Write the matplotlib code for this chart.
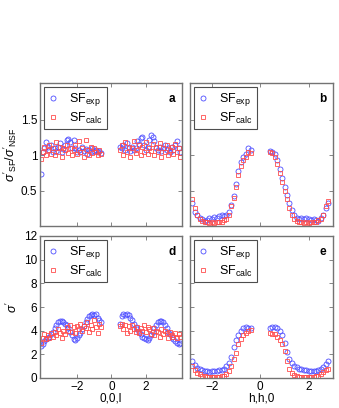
import numpy as np
import matplotlib
matplotlib.use("Agg")
import matplotlib.pyplot as plt

plt.rcParams['font.family'] = ['Liberation Sans', 'DejaVu Sans']
plt.rcParams['mathtext.fontset'] = 'custom'
plt.rcParams['mathtext.rm'] = 'Liberation Sans'
plt.rcParams['mathtext.it'] = 'Liberation Sans:italic'

# scan positions (0,0,l) and (h,h,0)
l_left = np.round(np.arange(-4.1, -0.55, 0.1), 1)
l_right = np.round(np.arange(0.5, 4.05, 0.1), 1)
h_left = np.round(np.arange(-2.8, -0.35, 0.1), 1)
h_right = np.round(np.arange(0.4, 2.85, 0.1), 1)

# panel a: sigma'_SF / sigma'_NSF along (0,0,l)
a_exp_left = [0.74, 1.05, 1.10, 1.18, 1.12, 1.08, 1.15, 1.05, 1.10, 1.06, 1.12, 1.17,
              1.05, 1.09, 1.14, 1.22, 1.23, 1.18, 1.10, 1.22, 1.10, 1.05, 1.08, 1.04,
              1.12, 1.06, 1.09, 1.02, 1.07, 1.05, 1.10, 1.06, 1.08, 1.04, 1.06, 1.03]
a_calc_left = [0.95, 1.05, 1.12, 1.00, 1.08, 1.15, 1.02, 1.10, 1.00, 1.18, 1.05, 1.12,
               0.98, 1.10, 1.07, 1.15, 1.03, 1.10, 1.00, 1.08, 1.14, 1.02, 1.20, 1.05,
               1.10, 0.98, 1.21, 1.08, 1.00, 1.12, 1.03, 1.10, 1.05, 1.00, 1.08, 1.02]
a_exp_right = [1.12, 1.10, 1.15, 1.08, 1.17, 1.10, 1.06, 1.12, 1.08, 1.10, 1.20, 1.16,
               1.25, 1.26, 1.15, 1.08, 1.12, 1.22, 1.28, 1.26, 1.20, 1.10, 1.08, 1.12,
               1.06, 1.10, 1.14, 1.08, 1.10, 1.05, 1.12, 1.08, 1.15, 1.20, 1.10, 1.05]
a_calc_right = [1.08, 1.15, 1.00, 1.18, 1.05, 1.12, 0.98, 1.10, 1.20, 1.03, 1.08, 1.15,
                1.00, 1.12, 1.05, 1.18, 1.02, 1.10, 1.06, 1.16, 1.00, 1.12, 1.04, 1.17,
                0.98, 1.10, 1.05, 1.14, 1.00, 1.08, 1.12, 1.02, 1.16, 1.05, 1.10, 0.98]

# panel b: ratio along (h,h,0)
b_exp_left = [0.32, 0.20, 0.15, 0.12, 0.10, 0.07, 0.09, 0.12, 0.10, 0.13, 0.12, 0.14, 0.15,
              0.14, 0.16, 0.20, 0.30, 0.42, 0.60, 0.78, 0.90, 0.97, 1.02, 1.10, 1.08]
b_calc_left = [0.38, 0.25, 0.15, 0.10, 0.07, 0.06, 0.05, 0.04, 0.05, 0.04, 0.05, 0.05, 0.06,
               0.08, 0.10, 0.16, 0.28, 0.40, 0.55, 0.72, 0.85, 0.93, 0.98, 1.05, 1.03]
b_exp_right = [1.06, 1.05, 1.02, 0.93, 0.80, 0.68, 0.55, 0.44, 0.32, 0.22, 0.15, 0.12, 0.10,
               0.11, 0.10, 0.12, 0.10, 0.09, 0.10, 0.08, 0.07, 0.12, 0.16, 0.25, 0.32]
b_calc_right = [1.04, 1.03, 0.98, 0.88, 0.75, 0.62, 0.50, 0.38, 0.26, 0.16, 0.10, 0.07, 0.05,
                0.05, 0.04, 0.05, 0.04, 0.05, 0.05, 0.06, 0.08, 0.10, 0.16, 0.28, 0.36]

# panel d: sigma' along (0,0,l)
d_exp_left = [2.7, 2.9, 3.1, 3.3, 3.4, 3.5, 3.7, 3.9, 4.2, 4.5, 4.7, 4.8, 4.8, 4.7, 4.6, 4.5,
              4.2, 3.9, 3.6, 3.3, 3.2, 3.4, 3.6, 3.8, 4.1, 4.4, 4.7, 5.0, 5.2, 5.3, 5.4, 5.3,
              5.4, 5.1, 4.9, 4.7]
d_calc_left = [3.0, 3.4, 3.7, 3.3, 3.6, 3.4, 3.8, 3.5, 3.9, 3.6, 4.1, 3.8, 3.4, 4.0, 3.7, 4.3,
               4.0, 4.5, 3.9, 4.3, 3.8, 4.4, 4.1, 4.6, 4.0, 4.4, 4.2, 4.7, 3.9, 4.5, 4.1, 4.9,
               4.3, 3.8, 4.6, 4.3]
d_exp_right = [4.6, 5.2, 5.4, 5.3, 5.4, 5.3, 5.1, 4.9, 4.6, 4.3, 4.1, 3.9, 3.7, 3.5, 3.4, 3.3,
               3.2, 3.4, 3.6, 3.9, 4.2, 4.5, 4.7, 4.8, 4.8, 4.7, 4.5, 4.2, 3.9, 3.7, 3.5, 3.3,
               3.1, 3.0, 2.9, 3.0]
d_calc_right = [4.4, 4.6, 4.1, 4.5, 3.8, 4.4, 4.0, 4.5, 4.1, 3.9, 4.3, 3.8, 4.2, 4.0, 4.5, 3.9,
                4.3, 4.1, 3.7, 4.2, 3.6, 4.0, 3.9, 3.5, 4.1, 3.7, 4.0, 3.8, 3.4, 3.9, 3.6, 3.5,
                3.8, 3.4, 3.7, 3.5]

# panel e: sigma' along (h,h,0)
e_exp_left = [1.40, 1.10, 0.85, 0.75, 0.65, 0.60, 0.55, 0.50, 0.55, 0.60, 0.60, 0.65, 0.70,
              0.80, 1.00, 1.30, 1.80, 2.60, 3.20, 3.60, 4.00, 4.20, 4.30, 4.25, 4.20]
e_calc_left = [1.00, 0.70, 0.45, 0.30, 0.20, 0.15, 0.12, 0.10, 0.10, 0.10, 0.12, 0.12, 0.15,
               0.20, 0.35, 0.60, 1.00, 1.60, 2.10, 2.90, 3.30, 3.60, 3.80, 3.95, 4.05]
e_exp_right = [4.20, 4.30, 4.35, 4.20, 4.00, 3.60, 3.00, 2.20, 1.60, 1.25, 1.05, 0.90, 0.80,
               0.75, 0.70, 0.65, 0.60, 0.55, 0.55, 0.60, 0.65, 0.80, 0.95, 1.20, 1.40]
e_calc_right = [3.80, 3.75, 3.70, 3.50, 3.20, 2.90, 2.30, 1.40, 0.80, 0.45, 0.25, 0.15, 0.12,
                0.10, 0.10, 0.10, 0.10, 0.10, 0.12, 0.15, 0.20, 0.30, 0.50, 0.65, 0.75]

blue = (0.3, 0.3, 1.0)
red = (1.0, 0.3, 0.3)
frame = '0.45'

fig = plt.figure(figsize=(3.39, 4.08), dpi=100)
ax_a = fig.add_axes([40/339, 1-226/408, 142/339, 143/408])
ax_b = fig.add_axes([190/339, 1-226/408, 143/339, 143/408])
ax_d = fig.add_axes([40/339, 1-378/408, 142/339, 142/408])
ax_e = fig.add_axes([190/339, 1-378/408, 143/339, 142/408])

panels = [
    (ax_a, l_left, l_right, a_exp_left, a_exp_right, a_calc_left, a_calc_right, 'a'),
    (ax_b, h_left, h_right, b_exp_left, b_exp_right, b_calc_left, b_calc_right, 'b'),
    (ax_d, l_left, l_right, d_exp_left, d_exp_right, d_calc_left, d_calc_right, 'd'),
    (ax_e, h_left, h_right, e_exp_left, e_exp_right, e_calc_left, e_calc_right, 'e'),
]

for ax, xl, xr, el, er, cl, cr, letter in panels:
    x = np.concatenate([xl, xr])
    ax.plot(x, np.concatenate([el, er]), 'o', ms=3.6, mfc='none', mec=blue, mew=0.6,
            label=r'SF$_{\mathrm{exp}}$')
    ax.plot(x, np.concatenate([cl, cr]), 's', ms=3.0, mfc='none', mec=red, mew=0.6,
            label=r'SF$_{\mathrm{calc}}$')
    for s in ax.spines.values():
        s.set_color(frame)
        s.set_linewidth(1.0)
    ax.tick_params(direction='in', length=3, width=0.6, color=frame, labelsize=8.5,
                   top=True, right=True, pad=2)
    ax.text(0.955, 0.89, letter, transform=ax.transAxes, ha='right', va='center',
            fontsize=8.5, fontweight='bold')
    leg = ax.legend(loc='upper left', fontsize=9, handlelength=0.8, handletextpad=0.9,
                    borderpad=0.3, labelspacing=0.2, borderaxespad=0.35,
                    fancybox=False, framealpha=1)
    leg.get_frame().set_edgecolor('0.3')
    leg.get_frame().set_linewidth(0.8)

for ax in (ax_a, ax_d):
    ax.set_xlim(-4.15, 4.1)
    ax.set_xticks([-2, 0, 2])
for ax in (ax_b, ax_e):
    ax.set_xlim(-2.9, 3.0)
    ax.set_xticks([-2, 0, 2])
for ax in (ax_a, ax_b):
    ax.set_ylim(0, 2.02)
    ax.set_yticks([0.5, 1, 1.5])
    ax.set_xticklabels([])
for ax in (ax_d, ax_e):
    ax.set_ylim(0, 12)
    ax.set_yticks([0, 2, 4, 6, 8, 10, 12])
ax_b.set_yticklabels([])
ax_e.set_yticklabels([])
ax_a.set_yticklabels(['0.5', '1', '1.5'])
ax_d.set_xticklabels(['\u22122', '0', '2'])
ax_e.set_xticklabels(['\u22122', '0', '2'])

ax_a.set_ylabel(r"$\sigma'_{\mathrm{SF}}/\sigma'_{\mathrm{NSF}}$", fontsize=9, labelpad=1)
ax_d.set_ylabel(r"$\sigma'$", fontsize=9, labelpad=3)
ax_d.set_xlabel('0,0,l', fontsize=8.5, labelpad=0)
ax_e.set_xlabel('h,h,0', fontsize=8.5, labelpad=0)

fig.savefig('out.png', dpi=100)
